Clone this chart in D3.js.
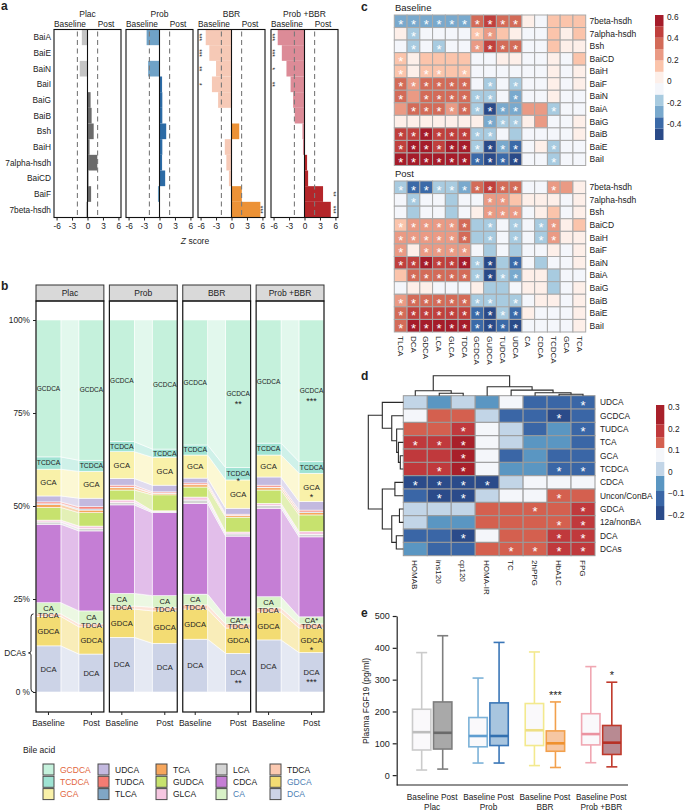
<!DOCTYPE html>
<html>
<head>
<meta charset="utf-8">
<script src="https://cdn.jsdelivr.net/npm/d3@7/dist/d3.min.js"></script>
<style>
  body { margin: 0; background: #fff; }
  svg text { font-family: "Liberation Sans", Arial, Helvetica, sans-serif; fill: #222; }
</style>
</head>
<body>
<script>
// ---------------- data ----------------
var groups = ["Plac", "Prob", "BBR", "Prob +BBR"];
var times = ["Baseline", "Post"];

// panel a: Z scores (negative = higher at baseline, positive = higher post)
var genes = ["BaiA", "BaiE", "BaiN", "BaiI", "BaiG", "BaiB", "Bsh", "BaiH", "7alpha-hsdh", "BaiCD", "BaiF", "7beta-hsdh"];
var zPlac = [-1.1, 0, -1.5, 0, 0.6, 0.8, 1.2, 0.4, 1.9, 0.2, 0.7, -0.3];
var zProb = [-2.5, 0, -2.2, 0.5, 0.55, 0.55, 1.3, 0.55, 0.5, 1.1, -0.3, 0];
var zBBR = [-5.0, -4.3, -3.0, -3.8, -2.6, 0, 1.5, -1.3, -1.0, -0.5, 2.0, 5.6];
var zCombo = [-5.2, -4.4, -3.5, -2.7, -2.2, -1.9, -0.4, -0.3, 0.5, 0.7, 3.6, 5.1];
var zStarsBase = [[], [], ["***", "***", "**", "*"], ["***", "***", "*", "**"]];
var zStarsPost = [[], [], ["", "", "", "", "", "", "", "", "", "", "", "***"],
                  ["", "", "", "", "", "", "", "", "", "", "**", "***"]];
var zTicks = [-6, -3, 0, 3, 6];

// panel b: relative abundance (%), acids listed top to bottom of the stack
var acids = ["GCDCA", "TCDCA", "GCA", "UDCA", "TUDCA", "TLCA", "TCA", "GUDCA", "GLCA", "LCA", "CDCA", "CA", "TDCA", "GDCA", "DCA"];
var pctPlacBase  = [36.8, 3.3, 7.2, 1.6, 0.5, 0.2, 0.8, 3.4, 0.5, 0.6, 21.1, 3.0, 0.7, 7.9, 12.4];
var pctPlacPost  = [37.7, 3.0, 7.2, 2.3, 0.6, 0.3, 0.7, 3.6, 0.7, 0.6, 21.5, 3.5, 0.8, 7.3, 10.2];
var pctProbBase  = [32.7, 2.7, 7.2, 1.8, 0.5, 0.2, 0.6, 2.7, 0.7, 0.6, 23.8, 3.4, 0.8, 7.6, 14.7];
var pctProbPost  = [34.7, 2.2, 7.5, 1.8, 0.3, 0.1, 0.4, 4.3, 0.2, 0.3, 22.3, 3.1, 1.0, 8.7, 13.1];
var pctBBRBase   = [33.6, 2.7, 6.2, 1.3, 0.4, 0.1, 0.6, 2.7, 0.8, 0.9, 24.4, 2.9, 1.1, 8.1, 14.2];
var pctBBRPost   = [39.7, 3.3, 7.6, 1.6, 0.3, 0.1, 0.4, 4.0, 0.5, 0.6, 21.7, 1.9, 1.1, 6.8, 10.4];
var pctComboBase = [33.1, 3.2, 5.9, 2.2, 0.5, 0.2, 0.6, 3.6, 0.6, 0.7, 23.8, 3.0, 1.1, 7.5, 14.0];
var pctComboPost = [38.1, 3.1, 7.6, 2.3, 0.5, 0.2, 0.6, 4.5, 0.7, 0.7, 21.5, 1.9, 1.1, 6.6, 10.6];
var pctStarsBBRPost   = ["**", "*", "", "", "", "", "", "", "", "", "", "**", "", "", "**"];
var pctStarsComboPost = ["***", "", "*", "", "", "", "", "", "", "", "", "*", "", "*", "***"];
var labelledAcids = ["GCDCA", "TCDCA", "GCA", "CA", "TDCA", "GDCA", "DCA"];
var pctTicks = [0, 25, 50, 75, 100];

// panel c: correlations, genes x bile acids
var cCols = ["TLCA", "DCA", "GDCA", "LCA", "GLCA", "TDCA", "GCDCA", "GUDCA", "TUDCA", "UDCA", "CA", "CDCA", "TCDCA", "GCA", "TCA"];
var cRows = ["7beta-hsdh", "7alpha-hsdh", "Bsh", "BaiCD", "BaiH", "BaiF", "BaiN", "BaiA", "BaiG", "BaiB", "BaiE", "BaiI"];
var corBase = [
  [-0.28, -0.28, -0.28, -0.28, -0.28, -0.28, 0.35, 0.45, 0.35, 0.35, 0.03, -0.07, 0.15, 0.15, 0.15],
  [0.03, -0.18, -0.07, -0.07, -0.07, -0.07, 0.15, 0.2, 0.15, 0.03, -0.07, -0.07, 0.15, 0.03, 0.15],
  [-0.07, -0.18, -0.07, -0.18, -0.07, -0.07, 0.2, 0.45, 0.35, 0.35, -0.07, -0.07, 0.15, 0.03, 0.03],
  [0.15, 0.03, 0.15, 0.15, 0.15, 0.15, -0.07, -0.07, 0.03, 0.03, -0.07, -0.07, 0.03, -0.07, 0.15],
  [0.15, 0.03, 0.15, 0.15, 0.15, 0.15, -0.07, -0.07, -0.07, -0.07, -0.07, -0.07, 0.03, -0.07, 0.03],
  [0.35, 0.2, 0.35, 0.35, 0.35, 0.35, -0.07, -0.18, -0.07, -0.18, -0.07, -0.07, 0.03, -0.07, 0.03],
  [0.35, 0.2, 0.35, 0.35, 0.35, 0.35, -0.18, -0.18, -0.07, -0.25, -0.07, -0.07, 0.03, -0.07, -0.07],
  [0.2, 0.35, 0.35, 0.35, 0.25, 0.35, -0.18, -0.5, -0.28, -0.28, 0.22, 0.22, -0.18, -0.07, -0.07],
  [0.03, 0.03, 0.03, 0.03, 0.03, 0.03, 0.03, -0.28, -0.18, -0.18, 0.03, 0.2, -0.07, -0.07, 0.03],
  [0.45, 0.45, 0.55, 0.45, 0.45, 0.45, -0.18, -0.18, -0.07, -0.15, -0.07, -0.07, -0.07, -0.07, 0.03],
  [0.45, 0.55, 0.55, 0.45, 0.55, 0.55, -0.18, -0.5, -0.28, -0.4, -0.07, 0.03, -0.18, -0.07, -0.07],
  [0.55, 0.58, 0.58, 0.58, 0.58, 0.58, -0.4, -0.5, -0.4, -0.45, -0.07, -0.07, -0.18, -0.07, -0.07]
];
var sigBase = ["111111111100000", "010000110000000", "010100111100000", "100000000000000",
               "101101000000000", "111111010100000", "101111110100000", "011111111100100",
               "000000011100000", "111111110000000", "111111111100100", "111111111100100"];
var corPost = [
  [-0.18, -0.4, -0.4, -0.22, -0.22, -0.28, 0.35, 0.45, 0.35, 0.35, -0.07, -0.07, 0.2, 0.2, 0.03],
  [-0.07, -0.18, -0.07, -0.07, -0.18, -0.07, -0.07, 0.2, 0.2, 0.15, 0.03, 0.03, 0.03, -0.07, 0.03],
  [-0.07, -0.18, -0.07, -0.07, -0.18, -0.07, 0.03, 0.3, 0.2, 0.2, -0.07, 0.03, 0.15, -0.07, 0.03],
  [0.15, 0.2, 0.3, 0.3, 0.3, 0.38, -0.18, -0.18, -0.07, -0.22, -0.07, -0.18, 0.2, 0.03, 0.15],
  [0.2, 0.3, 0.3, 0.3, 0.3, 0.35, -0.18, -0.18, -0.07, -0.22, -0.07, -0.18, 0.2, 0.03, 0.03],
  [0.2, 0.03, 0.2, 0.3, 0.3, 0.3, -0.07, -0.18, -0.07, -0.18, -0.07, -0.07, 0.03, -0.07, 0.03],
  [0.45, 0.5, 0.55, 0.5, 0.45, 0.55, -0.2, -0.45, -0.2, -0.42, -0.07, -0.18, -0.07, -0.07, 0.03],
  [0.15, 0.35, 0.35, 0.35, 0.35, 0.35, -0.2, -0.45, -0.2, -0.25, 0.03, 0.03, -0.18, -0.07, -0.07],
  [-0.07, 0.03, 0.03, -0.07, -0.07, -0.07, 0.03, -0.18, -0.18, -0.07, 0.03, 0.03, -0.18, -0.07, 0.03],
  [0.2, 0.35, 0.35, 0.35, 0.35, 0.35, -0.22, -0.2, -0.18, -0.2, -0.07, 0.03, 0.03, -0.07, 0.03],
  [0.4, 0.5, 0.5, 0.5, 0.5, 0.5, -0.42, -0.5, -0.2, -0.42, 0.03, -0.07, -0.07, -0.07, 0.03],
  [0.4, 0.58, 0.58, 0.58, 0.58, 0.58, -0.42, -0.5, -0.42, -0.48, -0.07, -0.07, -0.07, -0.07, 0.03]
];
var sigPost = ["111111111100100", "010000011000000", "000000011100000", "111111010101100",
               "111111010101100", "101111000000000", "111111110100000", "011111111100000",
               "000000000000000", "111111110100000", "111111111100000", "111111111100000"];
var cLegendTicks = [-0.4, -0.2, 0, 0.2, 0.4, 0.6];

// panel d: correlations, bile acids x clinical indices
var dCols = ["HOMAB", "ins120", "cp120", "HOMA-IR", "TC", "2hPPG", "HbA1C", "FPG"];
var dRows = ["UDCA", "GCDCA", "TUDCA", "TCA", "GCA", "TCDCA", "CDCA", "Uncon/ConBA", "GDCA", "12a/nonBA", "DCA", "DCAs"];
var corClin = [
  [0.01, -0.05, 0.01, -0.05, 0.08, -0.12, -0.12, -0.12],
  [0.08, 0.13, 0.13, 0.01, -0.12, -0.12, -0.19, -0.12],
  [0.13, 0.13, 0.19, 0.08, 0.01, -0.12, -0.05, -0.12],
  [0.19, 0.19, 0.26, 0.08, 0.01, -0.05, -0.05, -0.12],
  [0.19, 0.19, 0.26, 0.08, -0.12, -0.05, -0.12, -0.12],
  [0.19, 0.19, 0.26, 0.08, -0.05, -0.05, -0.12, -0.12],
  [-0.19, -0.19, -0.19, -0.19, 0.01, 0.08, 0.08, 0.08],
  [-0.12, -0.19, -0.19, 0.01, 0.08, 0.08, 0.13, 0.13],
  [0.01, 0.01, 0.01, 0.13, 0.13, 0.13, 0.13, 0.19],
  [0.01, -0.05, -0.05, 0.13, 0.13, 0.13, 0.13, 0.19],
  [-0.12, -0.12, -0.19, 0.08, 0.13, 0.13, 0.19, 0.19],
  [-0.05, -0.12, -0.12, 0.13, 0.13, 0.13, 0.19, 0.19]
];
var sigClin = ["00000001", "00000010", "00100001", "11100000", "00100000", "01100011",
               "11110000", "01100010", "00000101", "00000011", "00100011", "00001111"];
var dLegendTicks = [-0.2, -0.1, 0, 0.1, 0.2, 0.3];
var colTree = {h: 1, children: [
  {h: 0.25, children: [{name: "HOMAB"}, {h: 0.12, children: [{name: "ins120"}, {name: "cp120"}]}]},
  {h: 0.45, children: [{name: "HOMA-IR"}, {h: 0.28, children: [{name: "TC"},
    {h: 0.15, children: [{name: "2hPPG"}, {h: 0.07, children: [{name: "HbA1C"}, {name: "FPG"}]}]}]}]}
]};
var rowTree = {h: 1, children: [
  {h: 0.6, children: [{name: "UDCA"}, {h: 0.33, children: [{name: "GCDCA"}, {h: 0.19, children: [{name: "TUDCA"},
    {h: 0.14, children: [{name: "TCA"}, {h: 0.086, children: [{name: "GCA"}, {name: "TCDCA"}]}]}]}]}]},
  {h: 0.6, children: [{h: 0.24, children: [{name: "CDCA"}, {name: "Uncon/ConBA"}]},
    {h: 0.33, children: [{h: 0.11, children: [{name: "GDCA"}, {name: "12a/nonBA"}]}, {h: 0.2, children: [{name: "DCA"}, {name: "DCAs"}]}]}]}
]};

// panel e: plasma FGF19, [min, q1, median, q3, max]
var fgfBase = [[16, 79, 135, 207, 385], [38, 89, 123, 181, 305], [30, 93, 141, 225, 387], [39, 95, 129, 193, 341]];
var fgfPost = [[19, 82, 133, 230, 438], [38, 93, 123, 227, 417], [24, 75, 100, 139, 230], [26, 65, 102, 156, 292]];
var fgfStars = ["", "", "***", "*"];
var fgfTicks = [0, 100, 200, 300, 400, 500];

// ---------------- styles ----------------
var aLight = ["#c4c4c4", "#6fa2c7", "#f6c9b6", "#dc8b97"];
var aDark = ["#6b6b6b", "#2c6ba5", "#ec9236", "#b4262a"];
var acidColors = ["#c5f1dc", "#9fe3d3", "#f9f1a9", "#c3b9df", "#f47c73", "#80a6c5", "#f6a65c", "#c7e26e",
                  "#f6c7e1", "#d4d4d4", "#c57ed5", "#d9f2c8", "#fbc9b1", "#f3dc73", "#ccd3e7"];
var acidLabelColors = ["#e2663d", "#e2663d", "#e2663d", "#222", "#222", "#222", "#222", "#222",
                       "#222", "#222", "#222", "#4a7db3", "#222", "#4a7db3", "#4a7db3"];
var cPalette = ["#2a4a88", "#3b6aa8", "#79a9cd", "#a8cbe0", "#f4f6fb", "#fdefe9", "#fbc4ab", "#ea9a84", "#d36b58", "#c0403d", "#a51c2a"];
var dPalette = ["#2b4b8a", "#3a66a6", "#5a96c2", "#c2d5e7", "#f4f6fa", "#d4604f", "#c0393c", "#a8202a"];
var eBaseStroke = ["#cbcbcb", "#7cb2d8", "#f3e98e", "#f0a7b2"];
var eBaseMedian = ["#bdbdbd", "#5f9dd0", "#eedf84", "#eb93a0"];
var ePostFill = ["#a9a9a9", "#a8c5df", "#f6c7a3", "#b88a92"];
var ePostStroke = ["#7e7e7e", "#3a76b7", "#f2a04c", "#c0392b"];
var ePostMedian = ["#6a6a6a", "#3270b0", "#ef912e", "#b63126"];

var svg = d3.select("body").append("svg").attr("width", 685).attr("height", 810);

function label(t, x, y, size, anchor) {
  return svg.append("text").attr("x", x).attr("y", y).attr("font-size", size)
    .attr("text-anchor", anchor || "start").text(t);
}
function styleAxis(ax, size) {
  ax.selectAll("text").attr("font-size", size).attr("fill", "#222")
    .style("font-family", "'Liberation Sans', Arial, sans-serif");
  ax.selectAll("line").attr("stroke", "#222");
}
label("a", 1, 10, 12).attr("font-weight", "bold");
label("b", 1, 290, 12).attr("font-weight", "bold");
label("c", 361, 11, 12).attr("font-weight", "bold");
label("d", 361, 380, 12).attr("font-weight", "bold");
label("e", 361, 617, 12).attr("font-weight", "bold");

// ---------------- panel a ----------------
var zScores = [zPlac, zProb, zBBR, zCombo];
var aLeft = [54, 126, 198, 271], aW = 67, aTop = 29.5, aBottom = 217.5;
var aY = d3.scaleBand().domain(genes).range([aTop, aBottom]);

svg.selectAll("text.gene").data(genes).enter().append("text")
  .attr("x", 51).attr("y", function(d) { return aY(d) + aY.bandwidth() / 2; })
  .attr("dy", "0.35em").attr("text-anchor", "end").attr("font-size", 8.3).text(function(d) { return d; });

groups.forEach(function(grp, i) {
  var x = d3.scaleLinear().domain([-6.5, 6.5]).range([aLeft[i], aLeft[i] + aW]);
  var g = svg.append("g");
  g.selectAll("rect.bar").data(zScores[i]).enter().append("rect")
    .attr("x", function(d) { return x(Math.min(0, d)); })
    .attr("y", function(d, j) { return aY(genes[j]); })
    .attr("width", function(d) { return Math.abs(x(d) - x(0)); })
    .attr("height", aY.bandwidth())
    .attr("fill", function(d) { return d < 0 ? aLight[i] : aDark[i]; });
  [-1.96, 1.96].forEach(function(v) {
    g.append("line").attr("x1", x(v)).attr("x2", x(v)).attr("y1", aTop + 2).attr("y2", aBottom)
      .attr("stroke", "#7a7a7a").attr("stroke-width", 1.1).attr("stroke-dasharray", "5,3.5");
  });
  g.append("line").attr("x1", x(0)).attr("x2", x(0)).attr("y1", aTop).attr("y2", aBottom)
    .attr("stroke", "#111").attr("stroke-width", 1.1);
  g.append("rect").attr("x", aLeft[i]).attr("y", aTop).attr("width", aW).attr("height", aBottom - aTop)
    .attr("fill", "none").attr("stroke", "#111").attr("stroke-width", 1.1);

  var ax = g.append("g").attr("transform", "translate(0," + aBottom + ")")
    .call(d3.axisBottom(x).tickValues(zTicks).tickSize(3).tickPadding(3).tickFormat(function(v) { return String(v); }));
  ax.select(".domain").remove();
  styleAxis(ax, 8.3);

  g.append("text").attr("x", x(0)).attr("y", 16.5).attr("text-anchor", "middle").attr("font-size", 8.5).text(grp);
  g.append("text").attr("x", x(-3.4)).attr("y", 27).attr("text-anchor", "middle").attr("font-size", 8.3).text("Baseline");
  g.append("text").attr("x", x(3.6)).attr("y", 27).attr("text-anchor", "middle").attr("font-size", 8.3).text("Post");

  [[zStarsBase[i], -5.85], [zStarsPost[i], 5.85]].forEach(function(p) {
    g.selectAll(null).data(p[0]).enter().append("text")
      .attr("transform", function(d, j) { return "translate(" + x(p[1]) + "," + (aY(genes[j]) + aY.bandwidth() / 2) + ") rotate(90)"; })
      .attr("text-anchor", "middle").attr("dy", "0.6em").attr("font-size", 6.5).text(function(d) { return d; });
  });
});
var zLab = svg.append("text").attr("x", 195).attr("y", 244).attr("text-anchor", "middle").attr("font-size", 8.5);
zLab.append("tspan").attr("font-style", "italic").text("Z");
zLab.append("tspan").text(" score");

// ---------------- panel b ----------------
var barPct = [pctPlacBase, pctPlacPost, pctProbBase, pctProbPost, pctBBRBase, pctBBRPost, pctComboBase, pctComboPost];
var barStars = [null, null, null, null, null, pctStarsBBRPost, null, pctStarsComboPost];
var bFacet = d3.scaleBand().domain(groups).range([36, 324]).paddingInner(0.075);
var bTime = d3.scaleBand().domain(times).range([0, bFacet.bandwidth()]).paddingInner(0.42);
var bY = d3.scaleLinear().domain([0, 100]).range([692, 320]);
var bTop = 301, bBottom = 712;

var stackRows = barPct.map(function(v) {
  var o = {}; acids.forEach(function(a, k) { o[a] = v[k]; }); return o;
});
var stacked = d3.stack().keys(acids.slice().reverse())(stackRows);
function barX(i) { return bFacet(groups[Math.floor(i / 2)]) + bTime(times[i % 2]); }

groups.forEach(function(grp) {
  var fx = bFacet(grp);
  svg.append("rect").attr("x", fx).attr("y", 285).attr("width", bFacet.bandwidth()).attr("height", bTop - 285)
    .attr("fill", "#d9d9d9").attr("stroke", "#333").attr("stroke-width", 1);
  svg.append("text").attr("x", fx + bFacet.bandwidth() / 2).attr("y", 296).attr("text-anchor", "middle")
    .attr("font-size", 8.5).text(grp);
});

var bG = svg.append("g");
// flows between baseline and post bars
stacked.forEach(function(series) {
  var col = acidColors[acids.indexOf(series.key)];
  groups.forEach(function(grp, f) {
    var b = series[2 * f], p = series[2 * f + 1];
    var x1 = barX(2 * f) + bTime.bandwidth(), x2 = barX(2 * f + 1);
    bG.append("path")
      .attr("d", "M" + x1 + "," + bY(b[1]) + "L" + x2 + "," + bY(p[1]) + "L" + x2 + "," + bY(p[0]) + "L" + x1 + "," + bY(b[0]) + "Z")
      .attr("fill", col).attr("fill-opacity", 0.5).attr("stroke", "#fff").attr("stroke-width", 0.6);
  });
});
// stacked bars
stacked.forEach(function(series) {
  var col = acidColors[acids.indexOf(series.key)];
  bG.selectAll(null).data(series).enter().append("rect")
    .attr("x", function(d, i) { return barX(i); })
    .attr("y", function(d) { return bY(d[1]); })
    .attr("width", bTime.bandwidth())
    .attr("height", function(d) { return bY(d[0]) - bY(d[1]); })
    .attr("fill", col).attr("stroke", "#fff").attr("stroke-width", 0.6);
});
// segment labels
stacked.forEach(function(series) {
  var k = acids.indexOf(series.key);
  if (labelledAcids.indexOf(series.key) < 0) return;
  series.forEach(function(d, i) {
    var cx = barX(i) + bTime.bandwidth() / 2, cy = bY((d[0] + d[1]) / 2);
    var st = barStars[i] ? barStars[i][k] : "";
    var txt = series.key + (series.key === "CA" ? st : "");
    var t = bG.append("text").attr("x", cx).attr("y", cy).attr("dy", "0.35em").attr("text-anchor", "middle")
      .attr("font-size", 7.6).text(txt);
    var w = t.node().getComputedTextLength();
    if (w > 23.5) t.attr("font-size", 7.6 * 23.5 / w);
    if (st && series.key !== "CA") {
      var off = series.key === "TCDCA" ? 5 : 8;
      bG.append("text").attr("x", cx).attr("y", cy + off).attr("dy", "0.55em").attr("text-anchor", "middle")
        .attr("font-size", 9).text(st);
    }
  });
});
groups.forEach(function(grp) {
  svg.append("rect").attr("x", bFacet(grp)).attr("y", bTop).attr("width", bFacet.bandwidth()).attr("height", bBottom - bTop)
    .attr("fill", "none").attr("stroke", "#111").attr("stroke-width", 1.2);
  times.forEach(function(t) {
    var cx = bFacet(grp) + bTime(t) + bTime.bandwidth() / 2;
    svg.append("line").attr("x1", cx).attr("x2", cx).attr("y1", bBottom).attr("y2", bBottom + 3).attr("stroke", "#222");
    svg.append("text").attr("x", cx).attr("y", 726).attr("text-anchor", "middle").attr("font-size", 8.5).text(t);
  });
});
var bAxis = svg.append("g").attr("transform", "translate(36,0)")
  .call(d3.axisLeft(bY).tickValues(pctTicks).tickSize(3).tickPadding(3)
    .tickFormat(function(v) { return v === 0 ? "0 %" : v + "%"; }));
bAxis.select(".domain").remove();
styleAxis(bAxis, 8.3);

// DCAs bracket
var brTop = bY(stacked[2][0][1]), brBot = bY(0), brMid = (brTop + brBot) / 2;
svg.append("path")
  .attr("d", "M33.5," + brTop + "Q31," + brTop + " 31," + (brTop + 3) + "V" + (brMid - 2) + "Q31," + brMid + " 28.5," + brMid +
             "Q31," + brMid + " 31," + (brMid + 2) + "V" + (brBot - 3) + "Q31," + brBot + " 33.5," + brBot)
  .attr("fill", "none").attr("stroke", "#222").attr("stroke-width", 1);
label("DCAs", 26, brMid + 3, 8.3, "end");

// legend
label("Bile acid", 23, 753, 8.5);
acids.forEach(function(a, k) {
  var lx = [43, 98, 156, 216, 270][Math.floor(k / 3)], ly = 764 + (k % 3) * 12.3;
  svg.append("rect").attr("x", lx).attr("y", ly).attr("width", 11).attr("height", 11)
    .attr("fill", acidColors[k]).attr("stroke", "#4a4a4a").attr("stroke-width", 1);
  label(a, lx + 17, ly + 8.8, 8.5).style("fill", acidLabelColors[k]);
});

// ---------------- panel c ----------------
var cX = d3.scaleBand().domain(cCols).range([394.3, 585.7]);
var cThresholds = d3.range(1, 11).map(function(k) { return -0.55 + k * 1.17 / 11; });
var cColor = d3.scaleThreshold().domain(cThresholds).range(cPalette);

function corrMap(vals, sig, y0, y1, title) {
  var y = d3.scaleBand().domain(cRows).range([y0, y1]);
  var g = svg.append("g");
  g.append("text").attr("x", 395).attr("y", y0 - 4).attr("font-size", 9.5).text(title);
  vals.forEach(function(row, r) {
    g.selectAll(null).data(row).enter().append("rect")
      .attr("x", function(d, c) { return cX(cCols[c]); }).attr("y", y(cRows[r]))
      .attr("width", cX.bandwidth()).attr("height", y.bandwidth())
      .attr("fill", function(d) { return cColor(d); }).attr("stroke", "#a9a9a9").attr("stroke-width", 1);
  });
  vals.forEach(function(row, r) {
    row.forEach(function(v, c) {
      if (sig[r][c] !== "1") return;
      g.append("text").attr("x", cX(cCols[c]) + cX.bandwidth() / 2).attr("y", y(cRows[r]) + y.bandwidth() / 2)
        .attr("dy", "0.56em").attr("text-anchor", "middle").attr("font-size", 13)
        .style("fill", "#fff").text("*");
    });
  });
  g.selectAll("text.rl").data(cRows).enter().append("text")
    .attr("x", 589.5).attr("y", function(d) { return y(d) + y.bandwidth() / 2; }).attr("dy", "0.35em")
    .attr("font-size", 8.5).text(function(d) { return d; });
}
corrMap(corBase, sigBase, 15, 165.5, "Baseline");
corrMap(corPost, sigPost, 181, 332, "Post");
svg.selectAll("text.cc").data(cCols).enter().append("text")
  .attr("transform", function(d) { return "translate(" + (cX(d) + cX.bandwidth() / 2) + ",336) rotate(90)"; })
  .attr("dy", "0.35em").attr("font-size", 8).text(function(d) { return d; });

var cLegY = d3.scaleLinear().domain([-0.55, 0.62]).range([140, 15]);
var cEdges = [-0.55].concat(cThresholds, [0.62]);
cPalette.forEach(function(col, k) {
  svg.append("rect").attr("x", 655).attr("y", cLegY(cEdges[k + 1])).attr("width", 8.5)
    .attr("height", cLegY(cEdges[k]) - cLegY(cEdges[k + 1])).attr("fill", col);
});
cLegendTicks.forEach(function(v) {
  label(v === 0 ? "0" : String(v), 667, cLegY(v), 8.3).attr("dy", "0.35em");
});

// ---------------- panel d ----------------
var dX = d3.scaleBand().domain(dCols).range([403.3, 595]);
var dY = d3.scaleBand().domain(dRows).range([395.7, 555.7]);
var dColor = d3.scaleThreshold().domain([-0.16, -0.09, -0.02, 0.045, 0.11, 0.16, 0.22]).range(dPalette);
corClin.forEach(function(row, r) {
  svg.selectAll(null).data(row).enter().append("rect")
    .attr("x", function(d, c) { return dX(dCols[c]); }).attr("y", dY(dRows[r]))
    .attr("width", dX.bandwidth()).attr("height", dY.bandwidth())
    .attr("fill", function(d) { return dColor(d); }).attr("stroke", "#9a9a9a").attr("stroke-width", 1);
});
corClin.forEach(function(row, r) {
  row.forEach(function(v, c) {
    if (sigClin[r][c] !== "1") return;
    svg.append("text").attr("x", dX(dCols[c]) + dX.bandwidth() / 2).attr("y", dY(dRows[r]) + dY.bandwidth() / 2)
      .attr("dy", "0.56em").attr("text-anchor", "middle").attr("font-size", 13).style("fill", "#fff").text("*");
  });
});
svg.selectAll("text.dr").data(dRows).enter().append("text")
  .attr("x", 600).attr("y", function(d) { return dY(d) + dY.bandwidth() / 2; }).attr("dy", "0.35em")
  .attr("font-size", 8.3).text(function(d) { return d; });
svg.selectAll("text.dc").data(dCols).enter().append("text")
  .attr("transform", function(d) { return "translate(" + (dX(d) + dX.bandwidth() / 2) + ",560) rotate(90)"; })
  .attr("dy", "0.35em").attr("font-size", 8).text(function(d) { return d; });

function dendro(tree, leafPos, hPos, vertical) {
  var root = d3.hierarchy(tree);
  root.eachAfter(function(n) {
    if (!n.children) { n.p = leafPos(n.data.name); n.hh = 0; }
    else { n.p = d3.mean(n.children, function(c) { return c.p; }); n.hh = n.data.h; }
  });
  root.each(function(n) {
    if (!n.children) return;
    var a = n.children[0], b = n.children[1], path;
    if (vertical) {
      path = "M" + a.p + "," + hPos(a.hh) + "V" + hPos(n.hh) + "H" + b.p + "V" + hPos(b.hh);
    } else {
      path = "M" + hPos(a.hh) + "," + a.p + "H" + hPos(n.hh) + "V" + b.p + "H" + hPos(b.hh);
    }
    svg.append("path").attr("d", path).attr("fill", "none").attr("stroke", "#2a2a2a").attr("stroke-width", 1.1);
  });
}
dendro(colTree, function(nm) { return dX(nm) + dX.bandwidth() / 2; },
  d3.scaleLinear().domain([0, 1]).range([395.7, 375.7]), true);
dendro(rowTree, function(nm) { return dY(nm) + dY.bandwidth() / 2; },
  d3.scaleLinear().domain([0, 1]).range([403.3, 368.3]), false);

var dLegY = d3.scaleLinear().domain([-0.225, 0.31]).range([520, 405]);
var dEdges = [-0.225, -0.16, -0.09, -0.02, 0.045, 0.11, 0.16, 0.22, 0.31];
dPalette.forEach(function(col, k) {
  svg.append("rect").attr("x", 656).attr("y", dLegY(dEdges[k + 1])).attr("width", 8.3)
    .attr("height", dLegY(dEdges[k]) - dLegY(dEdges[k + 1])).attr("fill", col);
});
dLegendTicks.forEach(function(v) {
  label(v < 0 ? "\u2212" + Math.abs(v) : String(v), 668, dLegY(v), 8.3).attr("dy", "0.35em");
});

// ---------------- panel e ----------------
var eX = d3.scaleBand().domain(groups).range([404, 629.5]);
var eSub = d3.scaleBand().domain(times).range([-20.5, 20.5]).paddingInner(0.05);
var eY = d3.scaleLinear().domain([-31, 500]).range([785, 616]);
var eAxis = svg.append("g").attr("transform", "translate(396.7,0)")
  .call(d3.axisLeft(eY).tickValues(fgfTicks).tickSize(4).tickSizeOuter(0).tickPadding(3));
styleAxis(eAxis, 9);
eAxis.selectAll("line, path").attr("stroke", "#222").attr("stroke-width", 1.2);
svg.append("line").attr("x1", 396.7).attr("x2", 628).attr("y1", 785).attr("y2", 785).attr("stroke", "#222").attr("stroke-width", 1.2);
svg.append("text").attr("transform", "translate(369,701) rotate(-90)").attr("text-anchor", "middle")
  .attr("font-size", 8.5).text("Plasma FGF19 (pg/ml)");

function boxplot(s, cx, fill, stroke, med) {
  var g = svg.append("g");
  var hw = eSub.bandwidth() / 2 - 0.8;
  g.append("line").attr("x1", cx).attr("x2", cx).attr("y1", eY(s[4])).attr("y2", eY(s[3])).attr("stroke", stroke).attr("stroke-width", 1.6);
  g.append("line").attr("x1", cx).attr("x2", cx).attr("y1", eY(s[1])).attr("y2", eY(s[0])).attr("stroke", stroke).attr("stroke-width", 1.6);
  [s[0], s[4]].forEach(function(v) {
    g.append("line").attr("x1", cx - 5.5).attr("x2", cx + 5.5).attr("y1", eY(v)).attr("y2", eY(v)).attr("stroke", stroke).attr("stroke-width", 1.6);
  });
  g.append("rect").attr("x", cx - hw).attr("y", eY(s[3])).attr("width", 2 * hw).attr("height", eY(s[1]) - eY(s[3]))
    .attr("fill", fill).attr("stroke", stroke).attr("stroke-width", 1.6);
  g.append("line").attr("x1", cx - hw).attr("x2", cx + hw).attr("y1", eY(s[2])).attr("y2", eY(s[2])).attr("stroke", med).attr("stroke-width", 2.6);
}
groups.forEach(function(grp, i) {
  var gc = eX(grp) + eX.bandwidth() / 2;
  var cb = gc + eSub("Baseline") + eSub.bandwidth() / 2, cp = gc + eSub("Post") + eSub.bandwidth() / 2;
  boxplot(fgfBase[i], cb, "#faf9fb", eBaseStroke[i], eBaseMedian[i]);
  boxplot(fgfPost[i], cp, ePostFill[i], ePostStroke[i], ePostMedian[i]);
  if (fgfStars[i]) {
    svg.append("text").attr("x", cp).attr("y", eY(fgfPost[i][4]) - 3).attr("text-anchor", "middle")
      .attr("font-size", 11).text(fgfStars[i]);
  }
  label("Baseline Post", gc, 800, 8.3, "middle");
  label(grp, gc, 809.5, 8.3, "middle");
});
</script>
</body>
</html>
